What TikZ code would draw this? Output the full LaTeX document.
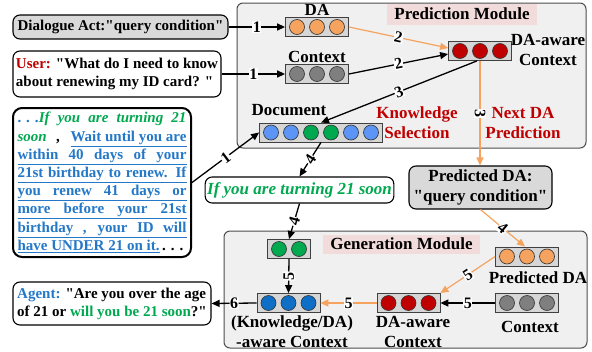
\documentclass[tikz,border=0pt]{standalone}
\usepackage{fontspec}
\setmainfont{Liberation Serif}[Ligatures=TeXOff]
\usetikzlibrary{arrows.meta}
\definecolor{orng}{HTML}{F5A35E}
\definecolor{redc}{HTML}{C00000}
\definecolor{grayc}{HTML}{7F7F7F}
\definecolor{lblue}{HTML}{5C95F5}
\definecolor{dblue}{HTML}{0F6FC6}
\definecolor{greenc}{HTML}{00A84F}
\definecolor{txtblue}{HTML}{2478C8}
\definecolor{pinkl}{HTML}{F2DCDB}
\definecolor{modfill}{HTML}{F0F0F0}
\definecolor{cellfill}{HTML}{D6D6D6}
\definecolor{boxgray}{HTML}{D9D9D9}
\newcommand\cellrow[5]{%
  \node[cellbox, minimum width={#4*20+3}] (#1) at (#2,#3) {};
  \foreach \cc [count=\ii] in {#5}{\node[dotc, fill=\cc] (#1-\ii) at ({#2+(\ii-(#4+1)/2)*20},#3) {};}
}
\newcommand\fillline[1]{\makebox[169pt][s]{#1}}
\begin{document}
\begin{tikzpicture}[x=1pt,y=-1pt,
  bigbox/.style={draw=black!70, fill=modfill, rounded corners=6pt, line width=1pt, inner sep=0pt},
  modlabel/.style={fill=pinkl, font=\fontsize{17}{19}\selectfont\bfseries, inner sep=0pt, minimum height=21pt},
  cellbox/.style={draw=black!75, fill=cellfill, minimum height=19pt, inner sep=0pt, line width=0.8pt},
  dotc/.style={circle, draw=black!80, minimum size=15pt, inner sep=0pt, line width=0.6pt},
  lbl/.style={font=\fontsize{17}{20}\selectfont\bfseries, inner sep=0pt, align=center},
  txtbox/.style={draw=black, rounded corners=7pt, line width=1.1pt, fill=white, inner sep=2pt,
     font=\fontsize{15}{18}\selectfont\bfseries, align=left},
  arr/.style={-{Triangle[length=8pt,width=7pt]}, line width=1.3pt},
  oarr/.style={-{Triangle[length=8pt,width=7pt]}, draw=orng, line width=1.2pt},
  num/.style={font=\fontsize{16}{16}\selectfont\bfseries, fill=white, inner sep=0.5pt, sloped, text=black}
]
\useasboundingbox (0,0) rectangle (592,351);

% modules
\node[bigbox, minimum width=349, minimum height=145] (pm) at (411.5,75.5) {};
\node[bigbox, minimum width=363, minimum height=117] (gm) at (405.5,289.5) {};
\node[modlabel, minimum width=150] (pmlab) at (462,14) {Prediction Module};
\node[modlabel, minimum width=157, minimum height=19pt] (gmlab) at (401.5,244) {Generation Module};

% left text boxes
\node[txtbox, fill=boxgray, minimum width=215, minimum height=24] (dact) at (120.5,27) {Dialogue Act:"query condition"};
\node[txtbox, minimum width=208, minimum height=46] (user) at (117,74)
  {\textcolor{redc}{User:} "What do I need to know\\about renewing my ID card? "};
\node[txtbox, line width=2pt, rounded corners=9pt, minimum width=178, minimum height=149, inner sep=3pt,
      font=\fontsize{15}{18.2}\selectfont\bfseries] (doctext) at (102,182.5)
  {\fillline{\textcolor{txtblue}{\mbox{. . .}}\color{greenc}\itshape If you are turning 21}\\
   \fillline{\textcolor{greenc}{\itshape soon} , \color{txtblue}\underline{Wait until you are}}\\
   {\color{txtblue}\underline{\fillline{within 40 days of your}}}\\
   {\color{txtblue}\underline{\fillline{21st birthday to renew. If}}}\\
   {\color{txtblue}\underline{\fillline{you renew 41 days or}}}\\
   {\color{txtblue}\underline{\fillline{more before your 21st}}}\\
   {\color{txtblue}\underline{\fillline{birthday , your ID will}}}\\
   \makebox[169pt][l]{{\color{txtblue}\underline{have UNDER 21 on it.}}\,\mbox{. . .}}};
\node[txtbox, minimum width=198, minimum height=43] (agent) at (112,303.5)
  {\textcolor{txtblue}{Agent:} "Are you over the age\\of 21 or \textcolor{greenc}{will you be 21 soon}?"};

\node[txtbox, minimum width=187, minimum height=26, font=\fontsize{17}{19}\selectfont\bfseries\itshape, text=greenc]
  (ifyou) at (299.5,190) {If you are turning 21 soon};
\node[txtbox, fill=boxgray, minimum width=143, minimum height=43, align=center, font=\fontsize{17}{20}\selectfont\bfseries]
  (pdabox) at (480.5,187.5) {Predicted DA:\\"query condition"};

% cell rows
\cellrow{da}{317}{27}{3}{orng,orng,orng}
\cellrow{ctx}{317}{74}{3}{grayc,grayc,grayc}
\cellrow{dactx}{480}{51}{3}{redc,redc,redc}
\cellrow{doc}{321}{132.5}{6}{lblue,lblue,greenc,greenc,lblue,lblue}
\cellrow{gnode}{289}{249}{2}{greenc,greenc}
\cellrow{pda}{527}{256.5}{3}{orng,orng,orng}
\cellrow{gctx}{527}{303}{3}{grayc,grayc,grayc}
\cellrow{gdactx}{408.5}{303}{3}{redc,redc,redc}
\cellrow{kctx}{288.5}{303}{3}{dblue,dblue,dblue}

% labels
\node[lbl] (l-da) at (317,10) {DA};
\node[lbl] (l-ctx) at (317,57) {Context};
\node[lbl] (l-dactx) at (548,50) {DA-aware\\Context};
\node[lbl] (l-doc) at (289,110) {Document};
\node[lbl, text=redc] (l-ks) at (417,123) {Knowledge\\Selection};
\node[lbl, text=redc] (l-nda) at (523,123) {Next DA\\Prediction};
\node[lbl] (l-pda) at (538,278) {Predicted DA};
\node[lbl] (l-gctx) at (530,327) {Context};
\node[lbl] (l-gdactx) at (413,332) {DA-aware\\Context};
\node[lbl] (l-kctx) at (292,332) {(Knowledge/DA)\\-aware Context};

% connectors
\draw[arr] (dact.east) -- node[num]{1} (da.west);
\draw[arr] (user.east) -- node[num]{1} (ctx.west);
\draw[arr] (doctext.east) -- node[num]{1} (doc.west);
\draw[oarr] (da.east) -- node[num]{2} ([yshift=3pt]dactx.west);
\draw[arr] (ctx.east) -- node[num]{2} ([yshift=-3pt]dactx.west);
\draw[arr] ([xshift=-3pt]dactx.south) -- node[num]{3} (doc.north);
\draw[oarr] (dactx.south) -- node[num]{3} (dactx.south |- pdabox.north);
\draw[arr] (doc.south) -- node[num]{4} (ifyou.north);
\draw[arr] (ifyou.south) -- node[num]{4} (gnode.north);
\draw[oarr] (pdabox.south) -- node[num]{4} ([xshift=-2pt]pda.north);
\draw[oarr] (pda.west) -- node[num]{5} (gdactx.north east);
\draw[arr] (gctx.west) -- node[num]{5} (gdactx.east);
\draw[oarr] (gdactx.west) -- node[num]{5} (kctx.east);
\draw[arr] (gnode.south) -- node[num]{5} (kctx.north);
\draw[arr] (kctx.west) -- node[num]{6} (agent.east);
\end{tikzpicture}
\end{document}
